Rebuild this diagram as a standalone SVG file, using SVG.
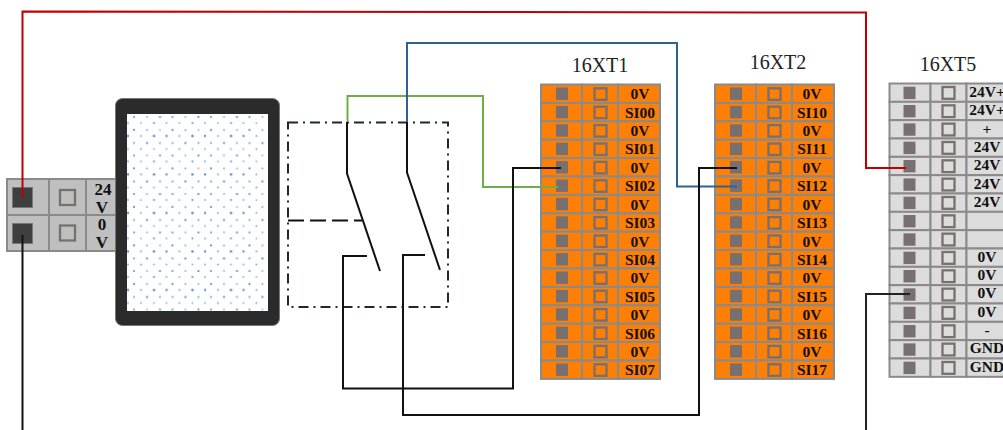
<svg xmlns="http://www.w3.org/2000/svg" width="1003" height="430" viewBox="0 0 1003 430">
<style>
text{font-family:"Liberation Serif","Times New Roman",serif;fill:#111;text-anchor:middle}
.t{font-size:15.500px;font-weight:bold}
.p{font-size:17px;font-weight:bold}
.h{font-size:20px;fill:#222}
.w{fill:none;stroke-width:2;stroke:#111}
.cell{stroke:#8a8a8a;stroke-width:2}
.o{fill:#fd7f05}.g{fill:#dcdcdc}.s{fill:#bfbfbf}
.pin{fill:#77706f}.pd{fill:#3f3f3f;stroke:#777;stroke-width:1}
.box{fill:none;stroke:#77706f;stroke-width:2.300}
</style>
<defs>
<pattern id="dots" width="38.500" height="38.500" patternUnits="userSpaceOnUse" x="127" y="114">
<g fill="#3f8ad2">
<circle cx="7" cy="3" r="1.100" opacity=".8"/><circle cx="20" cy="3" r="1" opacity=".6"/><circle cx="33" cy="3" r="1.100" opacity=".9"/>
<circle cx="1" cy="9" r="1" opacity=".6"/><circle cx="14" cy="9" r=".9" opacity=".7"/><circle cx="27" cy="9" r="1.100" opacity=".8"/>
<circle cx="7" cy="16" r="1.100" opacity=".9"/><circle cx="20" cy="16" r="1" opacity=".7"/><circle cx="33" cy="16" r="1" opacity=".6"/>
<circle cx="1" cy="22" r="1.200" opacity=".9"/><circle cx="14" cy="22" r="1" opacity=".7"/><circle cx="27" cy="22" r="1.200" opacity="1"/>
<circle cx="7" cy="29" r="1" opacity=".7"/><circle cx="20" cy="29" r="1.100" opacity=".9"/><circle cx="33" cy="29" r="1" opacity=".7"/>
<circle cx="1" cy="35" r="1" opacity=".6"/><circle cx="14" cy="35" r="1" opacity=".7"/><circle cx="27" cy="35" r="1" opacity=".6"/>
</g>
</pattern>
<g id="ro"><rect class="cell o" x="0" y="0" width="41" height="18.400"/><rect class="cell o" x="41" y="0" width="36" height="18.400"/><rect class="cell o" x="77" y="0" width="42" height="18.400"/><rect class="pin" x="15" y="3" width="12" height="12.400"/><rect class="box" x="53.500" y="3.800" width="12" height="11.500"/></g>
<g id="rg"><rect class="cell g" x="0" y="0" width="41" height="18.330"/><rect class="cell g" x="41" y="0" width="36" height="18.330"/><rect class="cell g" x="77" y="0" width="50" height="18.330"/><rect class="pin" x="14" y="3.200" width="12" height="12.400"/><rect class="box" x="53" y="3.500" width="12" height="11.800"/></g>
</defs>

<g id="terminal-power">
<rect class="cell s" x="7" y="179" width="42" height="36"/><rect class="cell s" x="49" y="179" width="37" height="36"/><rect class="cell s" x="86" y="179" width="30" height="36"/>
<rect class="cell s" x="7" y="215" width="42" height="36"/><rect class="cell s" x="49" y="215" width="37" height="36"/><rect class="cell s" x="86" y="215" width="30" height="36"/>
<rect class="pd" x="12.500" y="187.500" width="20" height="20"/><rect class="pd" x="12.500" y="223.500" width="20" height="20"/>
<rect class="box" x="60" y="190" width="15" height="15"/><rect class="box" x="60" y="225.500" width="15" height="15"/>
<text class="p" x="103" y="195">24</text><text class="p" x="102" y="213">V</text>
<text class="p" x="102" y="230">0</text><text class="p" x="102" y="248">V</text>
</g>

<g id="screen">
<rect x="115.500" y="98.500" width="164" height="227" rx="7" fill="#2b2b2b" stroke="#777" stroke-width="1"/>
<rect x="127" y="114" width="141" height="197" fill="#fff"/>
<rect x="127" y="114" width="141" height="197" fill="url(#dots)"/>
</g>

<g id="switch">
<rect x="288" y="122.500" width="160" height="184.500" fill="none" stroke="#1f2635" stroke-width="2" stroke-dasharray="10 5 2 5"/>
<path class="w" d="M288 220.500H362" stroke-dasharray="16 6"/>
<path class="w" d="M347 122V173.500L380 271M407 122V172.500L440 270"/>
</g>

<g id="terminal-16XT1">
<text class="h" x="600" y="72">16XT1</text>
<g transform="translate(541 84.500)">
<use href="#ro"/><use href="#ro" y="18.400"/><use href="#ro" y="36.800"/><use href="#ro" y="55.200"/><use href="#ro" y="73.600"/><use href="#ro" y="92"/><use href="#ro" y="110.400"/><use href="#ro" y="128.800"/><use href="#ro" y="147.200"/><use href="#ro" y="165.600"/><use href="#ro" y="184"/><use href="#ro" y="202.400"/><use href="#ro" y="220.800"/><use href="#ro" y="239.200"/><use href="#ro" y="257.600"/><use href="#ro" y="276"/>
</g>
<g class="t">
<text x="640" y="99">0V</text><text x="640" y="118">SI00</text><text x="640" y="136">0V</text><text x="640" y="154">SI01</text><text x="640" y="173">0V</text><text x="640" y="191">SI02</text><text x="640" y="209.500">0V</text><text x="640" y="228">SI03</text><text x="640" y="246.500">0V</text><text x="640" y="265">SI04</text><text x="640" y="283">0V</text><text x="640" y="301.500">SI05</text><text x="640" y="320">0V</text><text x="640" y="338.500">SI06</text><text x="640" y="357">0V</text><text x="640" y="375">SI07</text>
</g>
</g>

<g id="terminal-16XT2">
<text class="h" x="778" y="69">16XT2</text>
<g transform="translate(715 84.500)">
<use href="#ro"/><use href="#ro" y="18.400"/><use href="#ro" y="36.800"/><use href="#ro" y="55.200"/><use href="#ro" y="73.600"/><use href="#ro" y="92"/><use href="#ro" y="110.400"/><use href="#ro" y="128.800"/><use href="#ro" y="147.200"/><use href="#ro" y="165.600"/><use href="#ro" y="184"/><use href="#ro" y="202.400"/><use href="#ro" y="220.800"/><use href="#ro" y="239.200"/><use href="#ro" y="257.600"/><use href="#ro" y="276"/>
</g>
<g class="t">
<text x="812" y="99">0V</text><text x="812" y="118">SI10</text><text x="812" y="136">0V</text><text x="812" y="154">SI11</text><text x="812" y="173">0V</text><text x="812" y="191">SI12</text><text x="812" y="209.500">0V</text><text x="812" y="228">SI13</text><text x="812" y="246.500">0V</text><text x="812" y="265">SI14</text><text x="812" y="283">0V</text><text x="812" y="301.500">SI15</text><text x="812" y="320">0V</text><text x="812" y="338.500">SI16</text><text x="812" y="357">0V</text><text x="812" y="375">SI17</text>
</g>
</g>

<g id="terminal-16XT5">
<text class="h" x="948" y="71">16XT5</text>
<g transform="translate(889.500 83.500)">
<use href="#rg"/><use href="#rg" y="18.330"/><use href="#rg" y="36.660"/><use href="#rg" y="55"/><use href="#rg" y="73.330"/><use href="#rg" y="91.660"/><use href="#rg" y="110"/><use href="#rg" y="128.330"/><use href="#rg" y="146.660"/><use href="#rg" y="165"/><use href="#rg" y="183.330"/><use href="#rg" y="201.660"/><use href="#rg" y="220"/><use href="#rg" y="238.330"/><use href="#rg" y="256.660"/><use href="#rg" y="275"/>
</g>
<g class="t">
<text x="987" y="97">24V+</text><text x="987" y="115">24V+</text><text x="987" y="134">+</text><text x="987" y="152">24V</text><text x="987" y="170">24V</text><text x="987" y="189">24V</text><text x="987" y="207">24V</text>
<text x="987" y="262">0V</text><text x="987" y="280">0V</text><text x="987" y="298">0V</text><text x="987" y="317">0V</text><text x="987" y="335">-</text><text x="987" y="353">GND</text><text x="987" y="372">GND</text>
</g>
</g>

<g id="connectors" fill="none" stroke-width="2">
<path stroke="#c00000" d="M22.500 197V11.500L866 12.500V168H906"/>
<path stroke="#111" d="M22.500 235V430"/>
<path stroke="#222" d="M866 430V294H910"/>
<path stroke="#70ad47" d="M347.500 122V96H483V187H558"/>
<path stroke="#2e6293" d="M407 122V43H677V186.500H737"/>
<path stroke="#111" d="M367 256H343V388.500H513V168H561"/>
<path stroke="#111" d="M425 255H403V415H699V168H737"/>
</g>
</svg>
